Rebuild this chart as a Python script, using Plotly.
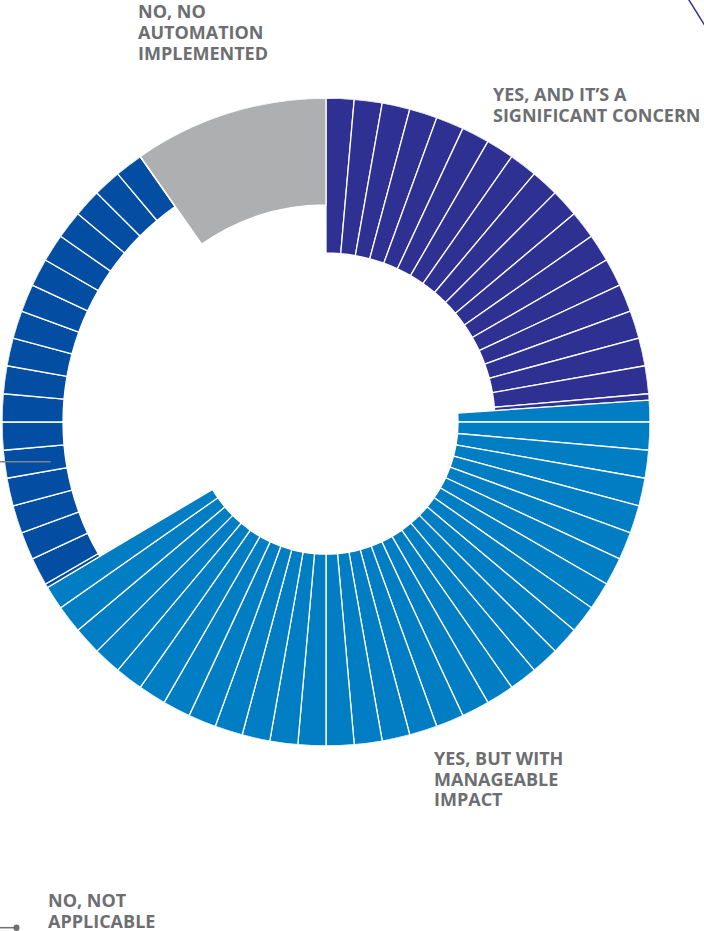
import plotly.graph_objects as go

# ---- data ----
categories = [
    "YES, AND IT’S A SIGNIFICANT CONCERN",
    "YES, BUT WITH MANAGEABLE IMPACT",
    "NO, NOT APPLICABLE",
    "NO, NO AUTOMATION IMPLEMENTED",
]
values_pct = [23.9, 42.5, 23.8, 9.7]

# ---- style ----
colors = ["#2E3192", "#007DC3", "#034EA2", "#AEAFB1"]
inner_radius = [169, 132, 263, 217]      # px
outer_radius = 324                        # px
split_into_ticks = [True, True, True, False]
tick_step = 5.0                           # degrees between white separators
W, H = 704, 931
CX, CY = 326, 422

fig = go.Figure()
total = sum(values_pct)
start = 0.0
for cat, v, col, rin, split in zip(categories, values_pct, colors, inner_radius, split_into_ticks):
    span = v / total * 360.0
    end = start + span
    pieces = []
    if split:
        a = start
        while a < end - 1e-9:
            nxt = (int(a // tick_step) + 1) * tick_step
            b = min(nxt, end)
            pieces.append((a, b))
            a = b
    else:
        pieces.append((start, end))
    fig.add_trace(go.Barpolar(
        theta=[(a + b) / 2 for a, b in pieces],
        width=[b - a for a, b in pieces],
        r=[outer_radius - rin] * len(pieces),
        base=[rin] * len(pieces),
        marker=dict(color=col, line=dict(color="white", width=1.3)),
        name=cat,
        hoverinfo="name",
        showlegend=False,
    ))
    start = end

R = outer_radius
fig.update_layout(
    width=W, height=H,
    margin=dict(l=0, r=0, t=0, b=0),
    paper_bgcolor="white", plot_bgcolor="white",
    bargap=0,
    polar=dict(
        domain=dict(x=[(CX - R) / W, (CX + R) / W], y=[(H - CY - R) / H, (H - CY + R) / H]),
        bgcolor="rgba(0,0,0,0)",
        radialaxis=dict(visible=False, range=[0, R]),
        angularaxis=dict(visible=False, direction="clockwise", rotation=90),
        hole=0,
    ),
)

label_color = "#6D6E71"
labels = [
    (["YES, AND IT’S A", "SIGNIFICANT CONCERN"], 493, [93.7, 114.0]),
    (["YES, BUT WITH", "MANAGEABLE", "IMPACT"], 434, [757.8, 778.0, 798.0]),
    (["NO, NOT", "APPLICABLE"], 48, [899.3, 920.0]),
    (["NO, NO", "AUTOMATION", "IMPLEMENTED"], 137.5, [10.8, 31.8, 52.7]),
]
for lines, lx, ys in labels:
    for t, yy in zip(lines, ys):
        fig.add_annotation(
            x=(lx - 2) / W, y=1 - yy / H, xref="paper", yref="paper",
            text=t, showarrow=False, xanchor="left", yanchor="middle",
            height=19, valign="middle",
            font=dict(family="Open Sans", size=18, color=label_color, weight="bold"),
        )

def px(x, y):
    return x / W, 1 - y / H

# leader lines (partially cropped in the reference)
x0, y0 = px(0, 461.7); x1, y1 = px(50.5, 461.7)
fig.add_shape(type="line", xref="paper", yref="paper", x0=x0, y0=y0, x1=x1, y1=y1,
              line=dict(color="#808285", width=1.5))
x0, y0 = px(-5, 927.7); x1, y1 = px(16.5, 927.7)
fig.add_shape(type="line", xref="paper", yref="paper", x0=x0, y0=y0, x1=x1, y1=y1,
              line=dict(color="#6D6E71", width=1.5))
x0, y0 = px(13.5, 924.5); x1, y1 = px(19.5, 930.9)
fig.add_shape(type="circle", xref="paper", yref="paper", x0=x0, y0=y0, x1=x1, y1=y1,
              fillcolor="#6D6E71", line=dict(color="#6D6E71", width=0))
x0, y0 = px(688.3, -1); x1, y1 = px(712, 37)
fig.add_shape(type="line", xref="paper", yref="paper", x0=x0, y0=y0, x1=x1, y1=y1,
              line=dict(color="#2E3192", width=1.5))

fig.write_html(
    "out.html",
    config={"displayModeBar": False},
    post_script="document.body.style.margin='0';document.body.style.overflow='hidden';",
)
